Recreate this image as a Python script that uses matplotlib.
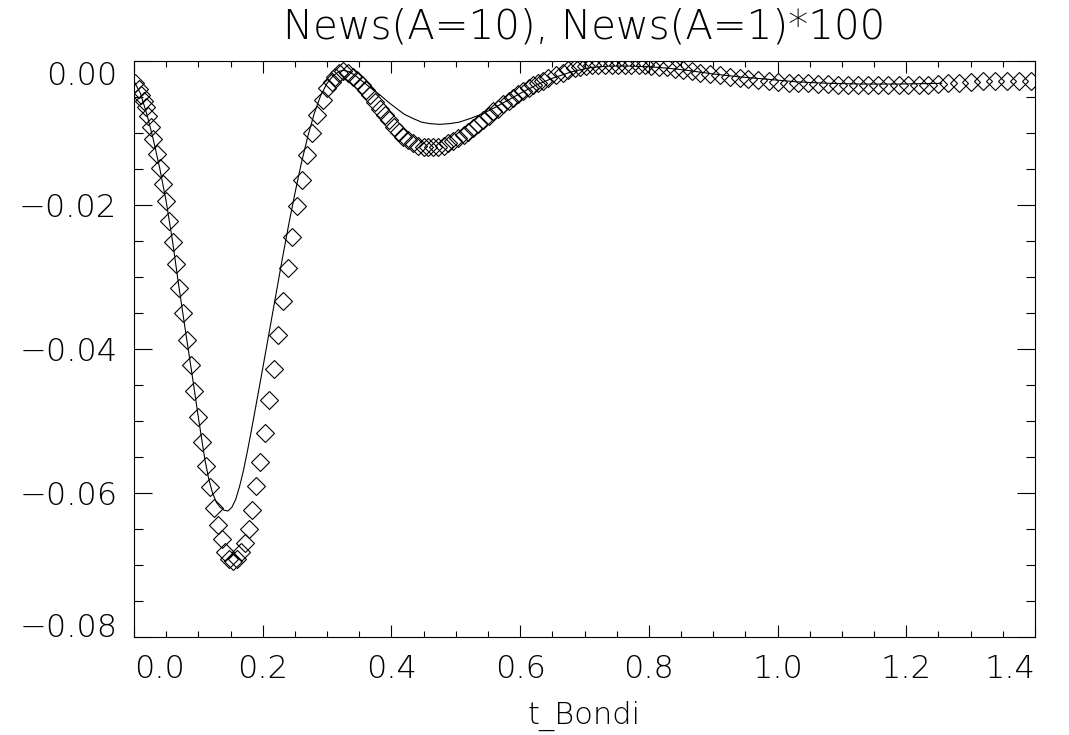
import matplotlib
matplotlib.use("Agg")
import matplotlib.pyplot as plt
from matplotlib.ticker import MultipleLocator, FuncFormatter

# News(A=1)*100, diamonds
t_a1 = [0.002, 0.007, 0.011, 0.015, 0.018, 0.022, 0.026, 0.030, 0.035, 0.040,
        0.045, 0.050, 0.055, 0.060, 0.065, 0.070, 0.076, 0.082,
        0.088, 0.094, 0.100, 0.106, 0.112, 0.118, 0.124, 0.130, 0.136, 0.142,
        0.148, 0.154, 0.160, 0.166, 0.172, 0.178, 0.184, 0.190, 0.196, 0.203,
        0.210, 0.217, 0.224,
        0.232, 0.239, 0.246, 0.254, 0.261, 0.269, 0.277, 0.285, 0.293, 0.300,
        0.307, 0.313, 0.319, 0.325,
        0.333, 0.340, 0.346, 0.354, 0.360, 0.367, 0.374, 0.382, 0.390, 0.397,
        0.404, 0.411, 0.418, 0.426, 0.434, 0.442, 0.450, 0.457, 0.465, 0.473,
        0.481, 0.488, 0.496, 0.504, 0.512, 0.519, 0.527, 0.535, 0.543, 0.551,
        0.558, 0.566, 0.574, 0.582, 0.589, 0.597, 0.605, 0.613, 0.620, 0.628,
        0.636, 0.644,
        0.656, 0.666, 0.675, 0.685, 0.693, 0.703, 0.711, 0.721, 0.732, 0.742,
        0.752, 0.763, 0.773, 0.784, 0.794, 0.804, 0.815, 0.828, 0.841, 0.853,
        0.867, 0.879, 0.895, 0.910, 0.926, 0.942, 0.954, 0.970, 0.986, 1.001,
        1.017, 1.032, 1.048, 1.063, 1.079, 1.094, 1.110, 1.125, 1.141, 1.156,
        1.172, 1.188, 1.203, 1.219, 1.234, 1.250, 1.265, 1.282, 1.300, 1.319,
        1.338, 1.356, 1.375, 1.394]
news_a1 = [-0.0030, -0.0039, -0.0047, -0.0055, -0.0064, -0.0077, -0.0091, -0.0109, -0.0129, -0.0149,
           -0.0171, -0.0195, -0.0222, -0.0251, -0.0282, -0.0315, -0.0350, -0.0387,
           -0.0422, -0.0459, -0.0495, -0.0529, -0.0563, -0.0592, -0.0621, -0.0644, -0.0664, -0.0682,
           -0.0691, -0.0694, -0.0692, -0.0682, -0.0669, -0.0650, -0.0624, -0.0590, -0.0557, -0.0516,
           -0.0471, -0.0428, -0.0381,
           -0.0334, -0.0288, -0.0244, -0.0202, -0.0165, -0.0130, -0.0100, -0.0075, -0.0054, -0.0038,
           -0.0029, -0.0022, -0.0017, -0.0014,
           -0.0017, -0.0022, -0.0026, -0.0033, -0.0040, -0.0047, -0.0057, -0.0066, -0.0075, -0.0082,
           -0.0091, -0.0098, -0.0105, -0.0110, -0.0114, -0.0118, -0.0119, -0.0120, -0.0120, -0.0119,
           -0.0118, -0.0114, -0.0111, -0.0107, -0.0103, -0.0098, -0.0093, -0.0087, -0.0082, -0.0076,
           -0.0070, -0.0066, -0.0060, -0.0056, -0.0051, -0.0046, -0.0042, -0.0038, -0.0034, -0.0031,
           -0.0028, -0.0024,
           -0.0019, -0.0016, -0.0013, -0.0010, -0.0008, -0.0007, -0.0006, -0.0006, -0.0006, -0.0006,
           -0.0006, -0.0006, -0.0006, -0.0006, -0.0006, -0.0007, -0.0008, -0.0009, -0.0011, -0.0013,
           -0.0014, -0.0016, -0.0018, -0.0020, -0.0022, -0.0023, -0.0025, -0.0026, -0.0028, -0.0029,
           -0.0030, -0.0031, -0.0031, -0.0032, -0.0032, -0.0033, -0.0033, -0.0033, -0.0033, -0.0033,
           -0.0033, -0.0033, -0.0033, -0.0033, -0.0033, -0.0032, -0.0031, -0.0030, -0.0029, -0.0028,
           -0.0028, -0.0028, -0.0028, -0.0028]

# News(A=10), solid line
t_a10 = [0.000, 0.010, 0.020, 0.030, 0.040, 0.050, 0.060, 0.070, 0.080, 0.090,
         0.100, 0.110, 0.116, 0.122, 0.128, 0.134, 0.140, 0.146, 0.152, 0.158,
         0.164, 0.170, 0.176, 0.182, 0.190, 0.200, 0.210, 0.220, 0.230, 0.240,
         0.250, 0.260, 0.270, 0.280, 0.290, 0.300, 0.310, 0.320, 0.326, 0.335,
         0.345, 0.356, 0.370, 0.382, 0.395, 0.408, 0.420, 0.434, 0.447, 0.460,
         0.475, 0.490, 0.505, 0.522, 0.540, 0.560, 0.580, 0.600, 0.626, 0.650,
         0.680, 0.710, 0.740, 0.770, 0.800, 0.830, 0.860, 0.900, 0.940, 0.980,
         1.030, 1.080, 1.130, 1.190, 1.255]
news_a10 = [-0.0028, -0.0045, -0.0074, -0.0109, -0.0149, -0.0195, -0.0251, -0.0315, -0.0375, -0.0434,
            -0.0495, -0.0553, -0.0580, -0.0600, -0.0613, -0.0620, -0.0624, -0.0625, -0.0620, -0.0609,
            -0.0591, -0.0569, -0.0543, -0.0515, -0.0476, -0.0427, -0.0377, -0.0327, -0.0277, -0.0229,
            -0.0184, -0.0142, -0.0105, -0.0073, -0.0048, -0.0031, -0.0020, -0.0014, -0.0013, -0.0015,
            -0.0021, -0.0029, -0.0039, -0.0047, -0.0057, -0.0066, -0.0074, -0.0080, -0.0085, -0.0087,
            -0.0088, -0.0087, -0.0085, -0.0080, -0.0074, -0.0065, -0.0055, -0.0045, -0.0033, -0.0024,
            -0.0015, -0.0009, -0.0007, -0.0007, -0.0008, -0.0010, -0.0013, -0.0018, -0.0022, -0.0025,
            -0.0029, -0.0031, -0.0032, -0.0032, -0.0031]

title = "News(A=10), News(A=1)*100"
xlabel = "t_Bondi"

plt.rcParams['font.family'] = ['DejaVu Sans']
plt.rcParams['font.weight'] = 'light'

fig = plt.figure(figsize=(10.69, 7.35), dpi=100)
ax = fig.add_axes([134 / 1069, 1 - 637 / 735, 901 / 1069, 576 / 735])

ax.plot(t_a10, news_a10, color='black', lw=0.8)
ax.plot(t_a1, news_a1, ls='none', marker='D', ms=9.3, mfc='none', mec='black', mew=0.8)

ax.set_xlim(0, 1.4)
ax.set_ylim(-0.08, 0.0)
ax.xaxis.set_major_locator(MultipleLocator(0.2))
ax.xaxis.set_minor_locator(MultipleLocator(0.05))
ax.yaxis.set_major_locator(MultipleLocator(0.02))
ax.yaxis.set_minor_locator(MultipleLocator(0.005))
ax.xaxis.set_major_formatter(FuncFormatter(lambda v, p: f"{v:.1f}"))
ax.yaxis.set_major_formatter(FuncFormatter(lambda v, p: f"{v:.2f}".replace('-', '\u2212')))

ax.tick_params(which='both', direction='in', top=True, right=True, width=0.8,
               labelsize=23, colors='black')
ax.tick_params(axis='x', which='major', length=8.3, pad=12)
ax.tick_params(axis='x', which='minor', length=4.2)
ax.tick_params(axis='y', which='major', length=13, pad=12)
ax.tick_params(axis='y', which='minor', length=6.5)
for s in ax.spines.values():
    s.set_linewidth(0.8)

ax.set_title(title, fontsize=29, fontweight='light', pad=16)
ax.set_xlabel(xlabel, fontsize=22, fontweight='light', labelpad=12)

# IDL pulls the end labels inside the frame
fig.canvas.draw()
for lab in ax.get_yticklabels():
    if lab.get_text() == '\u22120.08':
        lab.set_va('baseline')
    elif lab.get_text() == '0.00':
        lab.set_va('top')
for lab in ax.get_xticklabels():
    if lab.get_text() == '0.0':
        lab.set_ha('left')
    elif lab.get_text() == '1.4':
        lab.set_ha('right')

fig.savefig("out.png", dpi=100, facecolor='white')
